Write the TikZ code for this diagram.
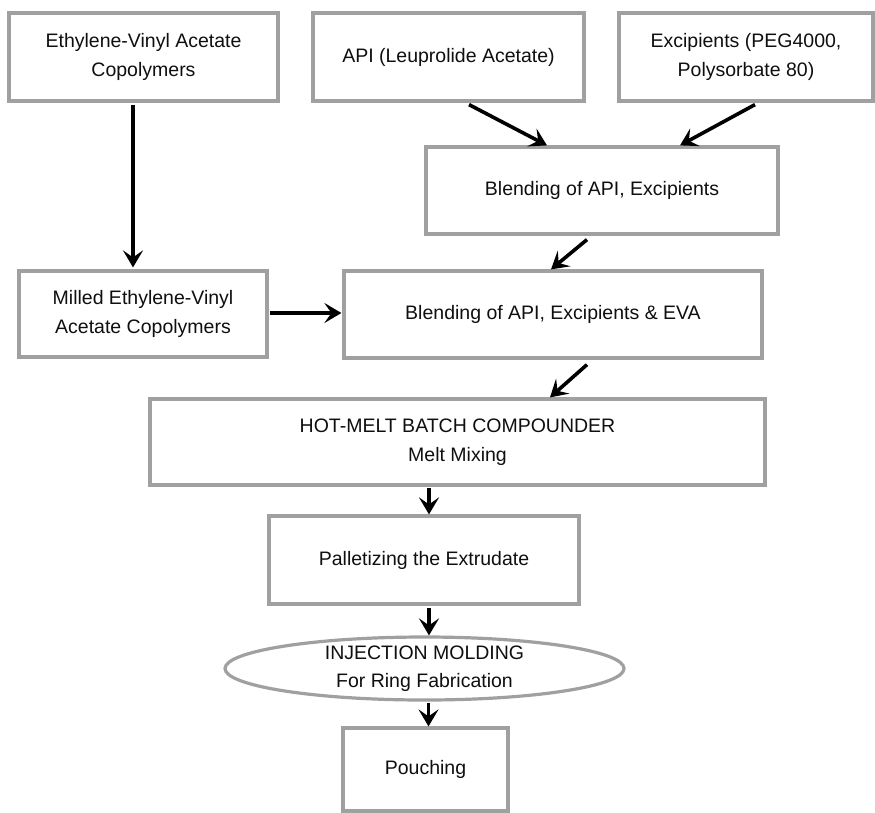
\documentclass[tikz,border=0pt]{standalone}
\usepackage{fontspec}
\setmainfont{Liberation Sans}
\usetikzlibrary{arrows.meta,shapes.geometric}
\definecolor{boxgray}{RGB}{160,160,160}
\definecolor{txt}{RGB}{15,15,15}
\begin{document}
\begin{tikzpicture}[x=1pt,y=-1pt,
  box/.style={draw=boxgray, line width=3.2pt, inner sep=0pt, align=center, text=txt,
    font=\fontsize{19.5}{28.5}\selectfont},
  arr/.style={line width=3.6pt, -{Stealth[length=17pt,width=20pt,inset=7pt]}}]
\useasboundingbox (0,0) rectangle (875,812);
\fill[white] (0,0) rectangle (875,812);

\node[box, minimum width=269pt, minimum height=88pt] (a) at (143.5,57) {Ethylene-Vinyl Acetate\\Copolymers};
\node[box, minimum width=271pt, minimum height=88pt] (b) at (448.5,57) {API (Leuprolide Acetate)};
\node[box, minimum width=254pt, minimum height=88pt] (c) at (746,57) {Excipients (PEG4000,\\Polysorbate 80)};
\node[box, minimum width=352pt, minimum height=87pt] (d) at (602,190.5) {Blending of API, Excipients};
\node[box, minimum width=248pt, minimum height=86pt] (e) at (143,314) {Milled Ethylene-Vinyl\\Acetate Copolymers};
\node[box, minimum width=418pt, minimum height=87pt] (f) at (553,314.5) {Blending of API, Excipients \& EVA};
\node[box, minimum width=615pt, minimum height=86pt] (g) at (457.5,442) {HOT-MELT BATCH COMPOUNDER\\Melt Mixing};
\node[box, minimum width=310pt, minimum height=88pt] (h) at (424,560) {Palletizing the Extrudate};
\node[box, ellipse, inner ysep=-4pt, minimum width=399pt, minimum height=63pt] (i) at (424.5,668.5) {INJECTION MOLDING\\For Ring Fabrication};
\node[box, minimum width=165pt, minimum height=83pt] (j) at (425.5,769.5) {Pouching};

\draw[arr] ([xshift=-10.5pt,yshift=-2pt]a.south) -- ([xshift=-10pt,yshift=2pt]e.north);
\draw[arr] ([xshift=20.5pt,yshift=-2pt]b.south) -- ([xshift=-55pt]d.north);
\draw[arr] ([xshift=9pt,yshift=-2pt]c.south) -- ([xshift=78pt]d.north);
\draw[arr] ([xshift=-15pt,yshift=-4pt]d.south) -- ([xshift=-2pt]f.north);
\draw[arr] ([xshift=1pt,yshift=1pt]e.east) -- ([xshift=-1pt,yshift=1pt]e.east -| f.west);
\draw[arr] ([xshift=34pt,yshift=-5pt]f.south) -- ([xshift=92.5pt]g.north);
\draw[arr] ([xshift=5pt,yshift=-1pt]h.north |- g.south) -- ([xshift=5pt]h.north);
\draw[arr] ([xshift=5pt,yshift=-2pt]h.south) -- ([xshift=5pt]h.south |- i.north);
\draw[arr] ([xshift=4pt,yshift=-1pt]i.south) -- ([xshift=4pt]i.south |- j.north);
\end{tikzpicture}
\end{document}
